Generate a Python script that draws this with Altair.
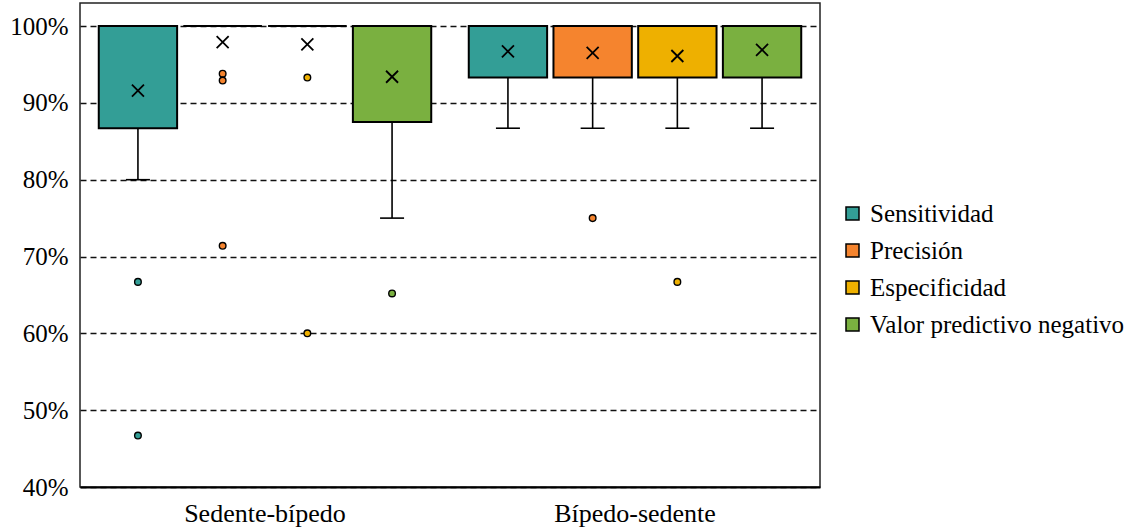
import altair as alt
import pandas as pd

# Summary statistics per transition (grupo) and metric
grupos = ["Sedente-bípedo", "Bípedo-sedente"]
metricas = ["Sensitividad", "Precisión", "Especificidad", "Valor predictivo negativo"]
colores = ["#339E96", "#F5842E", "#EEB000", "#7AB040"]

q1_sed = [0.867, 1.0, 1.0, 0.875]
q1_bip = [0.933, 0.933, 0.933, 0.933]
q3_sed = [1.0, 1.0, 1.0, 1.0]
q3_bip = [1.0, 1.0, 1.0, 1.0]
mediana_sed = [1.0, 1.0, 1.0, 1.0]
mediana_bip = [1.0, 1.0, 1.0, 1.0]
bigote_inf_sed = [0.80, 1.0, 1.0, 0.75]
bigote_inf_bip = [0.867, 0.867, 0.867, 0.867]
media_sed = [0.916, 0.979, 0.976, 0.934]
media_bip = [0.967, 0.965, 0.961, 0.969]

# Outliers: (grupo, métrica, valor)
atipicos_grupo = ["Sedente-bípedo", "Sedente-bípedo",
                  "Sedente-bípedo", "Sedente-bípedo", "Sedente-bípedo",
                  "Sedente-bípedo", "Sedente-bípedo",
                  "Sedente-bípedo",
                  "Bípedo-sedente", "Bípedo-sedente"]
atipicos_metrica = ["Sensitividad", "Sensitividad",
                    "Precisión", "Precisión", "Precisión",
                    "Especificidad", "Especificidad",
                    "Valor predictivo negativo",
                    "Precisión", "Especificidad"]
atipicos_valor = [0.667, 0.467,
                  0.938, 0.929, 0.714,
                  0.933, 0.60,
                  0.652,
                  0.75, 0.667]

filas = []
for g, q1s, q3s, meds, bis, mus in [
    (grupos[0], q1_sed, q3_sed, mediana_sed, bigote_inf_sed, media_sed),
    (grupos[1], q1_bip, q3_bip, mediana_bip, bigote_inf_bip, media_bip),
]:
    for i, m in enumerate(metricas):
        filas.append({"grupo": g, "metrica": m, "q1": q1s[i], "q3": q3s[i],
                      "mediana": meds[i], "bigote_inf": bis[i], "media": mus[i]})
resumen = pd.DataFrame(filas)
atipicos = pd.DataFrame({"grupo": atipicos_grupo, "metrica": atipicos_metrica,
                         "valor": atipicos_valor})

fuente = "Liberation Serif, Times New Roman, DejaVu Serif, serif"
ydom = [0.4, 1.03]

x_enc = alt.X("grupo:N", sort=grupos, title=None,
              scale=alt.Scale(paddingInner=0, paddingOuter=0),
              axis=alt.Axis(labelAngle=0, labelFont=fuente, labelFontSize=26,
                            labelColor="black", labelPadding=13, ticks=False,
                            domainColor="black", domainWidth=2, grid=False))
xo_enc = alt.XOffset("metrica:N", sort=metricas,
                     scale=alt.Scale(paddingInner=0.075, paddingOuter=0.2215))
color_enc = alt.Color("metrica:N", sort=metricas,
                      scale=alt.Scale(domain=metricas, range=colores),
                      legend=alt.Legend(title=None, orient="none", legendX=760, legendY=198,
                                        symbolType="square", symbolSize=169,
                                        symbolStrokeColor="black", symbolStrokeWidth=1.5,
                                        labelFont=fuente, labelFontSize=25,
                                        labelColor="black", labelOffset=5,
                                        labelLimit=400, rowPadding=11))

base = alt.Chart(resumen).encode(x=x_enc, xOffset=xo_enc)

ejes = alt.Chart(resumen).mark_point(opacity=0).encode(
    x=x_enc,
    y=alt.Y("q3:Q", title=None,
            scale=alt.Scale(domain=ydom, nice=False, zero=False),
            axis=alt.Axis(format=".0%", values=[0.4, 0.5, 0.6, 0.7, 0.8, 0.9, 1.0],
                          labelFont=fuente, labelFontSize=25, labelColor="black",
                          labelPadding=12, ticks=False, domain=False,
                          grid=True, gridColor="#111111", gridWidth=1.3,
                          gridDash=[6, 4])),
)

bigotes = base.mark_rule(color="black", strokeWidth=1.6).encode(
    y=alt.Y("bigote_inf:Q", scale=alt.Scale(domain=ydom)),
    y2="q1:Q",
)
topes = base.mark_tick(color="black", size=24, thickness=1.6, opacity=1).encode(
    y=alt.Y("bigote_inf:Q", scale=alt.Scale(domain=ydom)),
)
cajas = base.mark_bar(stroke="black", strokeWidth=2).encode(
    y=alt.Y("q1:Q", scale=alt.Scale(domain=ydom)),
    y2="q3:Q",
    color=color_enc,
)
medianas = base.mark_tick(color="black", size=78, thickness=2, opacity=1).encode(
    y=alt.Y("mediana:Q", scale=alt.Scale(domain=ydom)),
)
medias = base.mark_point(shape="M-1,-1L1,1M1,-1L-1,1", size=144, filled=False,
                         color="black", strokeWidth=1.8, opacity=1).encode(
    y=alt.Y("media:Q", scale=alt.Scale(domain=ydom)),
)
puntos = alt.Chart(atipicos).mark_point(shape="circle", size=44, filled=True,
                                        stroke="black", strokeWidth=1.4, opacity=1).encode(
    x=x_enc, xOffset=xo_enc,
    y=alt.Y("valor:Q", scale=alt.Scale(domain=ydom)),
    fill=alt.Fill("metrica:N", scale=alt.Scale(domain=metricas, range=colores), legend=None),
)

chart = alt.layer(ejes, bigotes, topes, cajas, medianas, medias, puntos).properties(
    width=740, height=484,
    autosize=alt.AutoSizeParams(type="none"),
    padding={"left": 80, "top": 3, "right": 308, "bottom": 40},
    background="white",
).configure(font=fuente).configure_view(stroke="#222222", strokeWidth=1.5)

chart.save("out.html", embed_options={"renderer": "svg", "actions": False})
